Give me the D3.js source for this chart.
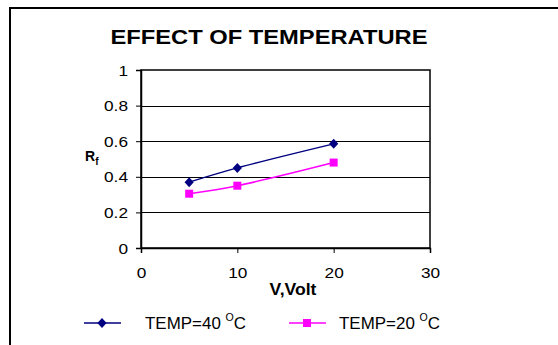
<!DOCTYPE html>
<html>
<head>
<meta charset="utf-8">
<script src="https://cdn.jsdelivr.net/npm/d3@7"></script>
<style>
  body { margin: 0; background: #fff; }
  svg { font-family: "Liberation Sans", Arial, sans-serif; }
</style>
</head>
<body>
<svg id="chart" width="558" height="345"></svg>
<script>
// data
const volts = [5, 10, 20];
const temp40 = [0.37, 0.45, 0.585];
const temp20 = [0.305, 0.35, 0.48];
const xTicks = [0, 10, 20, 30];
const yTicks = [0, 0.2, 0.4, 0.6, 0.8, 1];

const svg = d3.select("#chart");

// text in the original is a bit wider than Arial, so stretch horizontally
function wideText(g, px, py, sx) {
    return g.append("text")
        .attr("transform", `translate(${px},${py}) scale(${sx},1)`);
}

// outer chart frame (only left and top edges show in the crop)
svg.append("path")
    .attr("d", "M10,345 V8 H558")
    .attr("fill", "none")
    .attr("stroke", "#000")
    .attr("stroke-width", 2);

const x = d3.scaleLinear().domain([0, 30]).range([141, 430]);
const y = d3.scaleLinear().domain([0, 1]).range([248, 70]);

wideText(svg, 269, 44, 1.13)
    .attr("text-anchor", "middle")
    .attr("font-size", 21)
    .attr("font-weight", "bold")
    .text("EFFECT OF TEMPERATURE");

// gridlines
svg.append("g")
    .selectAll("line")
    .data(yTicks.filter(d => d > 0 && d < 1))
    .join("line")
    .attr("x1", x(0)).attr("x2", x(30))
    .attr("y1", d => Math.round(y(d)) + 0.5).attr("y2", d => Math.round(y(d)) + 0.5)
    .attr("stroke", "#000");

// plot frame
svg.append("rect")
    .attr("x", x(0)).attr("y", y(1))
    .attr("width", x(30) - x(0)).attr("height", y(0) - y(1))
    .attr("fill", "none")
    .attr("stroke", "#000")
    .attr("stroke-width", 1.5);

const yAxis = svg.append("g")
    .attr("transform", `translate(${x(0)},0)`)
    .call(d3.axisLeft(y).tickValues(yTicks).tickSize(5).tickFormat(d3.format("~g")));
const xAxis = svg.append("g")
    .attr("transform", `translate(0,${y(0)})`)
    .call(d3.axisBottom(x).tickValues(xTicks).tickSize(5));
[yAxis, xAxis].forEach(g => {
    g.select(".domain").attr("stroke-width", 1.5);
    g.selectAll("text").attr("font-size", 15).attr("fill", "#000")
        .attr("font-family", "Liberation Sans, Arial, sans-serif");
});
yAxis.selectAll(".tick text")
    .attr("x", null).attr("dy", null)
    .attr("transform", "translate(-13,5) scale(1.15,1)");
xAxis.selectAll(".tick text")
    .attr("y", null).attr("dy", null)
    .attr("transform", "translate(0,30) scale(1.15,1)");

// axis titles
const rf = svg.append("text")
    .attr("x", 85).attr("y", 161)
    .attr("font-size", 14).attr("font-weight", "bold");
rf.append("tspan").text("R");
rf.append("tspan").attr("font-size", 10).attr("dy", 4).text("f");

wideText(svg, 293, 295, 1.1)
    .attr("text-anchor", "middle")
    .attr("font-size", 16).attr("font-weight", "bold")
    .text("V,Volt");

const diamond = { draw(ctx) { ctx.moveTo(0, -5); ctx.lineTo(4.6, 0); ctx.lineTo(0, 5); ctx.lineTo(-4.6, 0); ctx.closePath(); } };

const series = [
    { name: "40", values: temp40, color: "#000080", symbol: diamond, size: 1, lx: 84, tx: 145 },
    { name: "20", values: temp20, color: "#ff00ff", symbol: d3.symbolSquare, size: 64, lx: 289, tx: 339 }
];

const line = d3.line()
    .x((d, i) => x(volts[i]))
    .y(d => y(d))
    .curve(d3.curveCatmullRom.alpha(0.5));

series.forEach(s => {
    svg.append("path")
        .datum(s.values)
        .attr("d", line)
        .attr("fill", "none")
        .attr("stroke", s.color)
        .attr("stroke-width", 1.5);

    svg.append("g")
        .selectAll("path")
        .data(s.values)
        .join("path")
        .attr("transform", (d, i) => `translate(${x(volts[i])},${y(d)})`)
        .attr("d", d3.symbol(s.symbol, s.size))
        .attr("fill", s.color);

    // legend entry
    const ly = 323;
    svg.append("line")
        .attr("x1", s.lx).attr("x2", s.lx + 37)
        .attr("y1", ly).attr("y2", ly)
        .attr("stroke", s.color).attr("stroke-width", 1.5);
    svg.append("path")
        .attr("transform", `translate(${s.lx + 18},${ly})`)
        .attr("d", d3.symbol(s.symbol, s.size))
        .attr("fill", s.color);
    const t = wideText(svg, s.tx, ly + 6, 1.06)
        .attr("font-size", 16);
    t.append("tspan").text(`TEMP=${s.name} `);
    t.append("tspan").attr("font-size", 10).attr("dy", -8).text("O");
    t.append("tspan").attr("dy", 8).text("C");
});
</script>
</body>
</html>
